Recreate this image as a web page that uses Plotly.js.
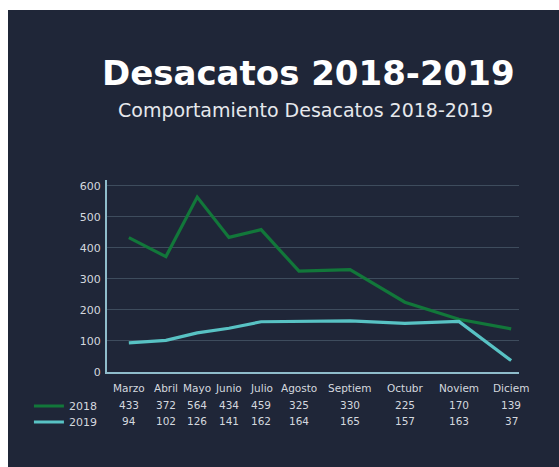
<!DOCTYPE html>
<html>
<head>
<meta charset="utf-8">
<script src="https://cdn.plot.ly/plotly-3.0.1.min.js"></script>
<style>
  html, body { margin: 0; padding: 0; background: #ffffff; }
  #chart { position: absolute; left: 8px; top: 10px; width: 551px; height: 457px; }
</style>
</head>
<body>
<div id="chart"></div>
<script>
// ---- data ----
var months = ["Marzo", "Abril", "Mayo", "Junio", "Julio", "Agosto", "Septiem", "Octubr", "Noviem", "Diciem"];
// column centres of the data table (axis units, range 0..10)
var monthX = [0.53, 1.43, 2.19, 2.96, 3.74, 4.66, 5.90, 7.23, 8.54, 9.81];
var values2018 = [433, 372, 564, 434, 459, 325, 330, 225, 170, 139];
var values2019 = [94, 102, 126, 141, 162, 164, 165, 157, 163, 37];
var seriesNames = ["2018", "2019"];
var yTicks = [0, 100, 200, 300, 400, 500, 600];

var BG = "#1f2638";
var GREEN = "#12773a";
var CYAN = "#58c2c4";
var TXT = "#d4d8df";
var FONT = "DejaVu Sans, Verdana, sans-serif";

var traces = [
  { x: monthX, y: values2018, name: seriesNames[0], type: "scatter", mode: "lines",
    line: { color: GREEN, width: 3.2 }, hoverinfo: "skip", legend: "legend" },
  { x: monthX, y: values2019, name: seriesNames[1], type: "scatter", mode: "lines",
    line: { color: CYAN, width: 3.2 }, hoverinfo: "skip", legend: "legend2" }
];

var annotations = [];
function rowText(labels, yPaper) {
  for (var i = 0; i < labels.length; i++) {
    annotations.push({
      x: monthX[i], xref: "x", y: yPaper, yref: "paper",
      text: String(labels[i]), showarrow: false,
      xanchor: "center", yanchor: "middle",
      font: { family: FONT, size: 10.5, color: TXT }
    });
  }
}
rowText(months, -0.083);
rowText(values2018, -0.172);
rowText(values2019, -0.255);

annotations.push({
  text: "Comportamiento Desacatos 2018-2019",
  xref: "paper", x: 0.483, yref: "paper", y: 1.365,
  xanchor: "center", yanchor: "middle", showarrow: false,
  font: { family: FONT, size: 19, color: "#e6e8ec" }
});

function legendBox(yTopPx) {
  return {
    orientation: "v",
    xref: "container", yref: "container",
    x: 0.038, xanchor: "left", y: 1 - yTopPx / 457, yanchor: "middle",
    bgcolor: "rgba(0,0,0,0)", borderwidth: 0,
    font: { family: FONT, size: 11, color: TXT },
    itemclick: false, itemdoubleclick: false
  };
}

var layout = {
  width: 551, height: 457,
  paper_bgcolor: BG, plot_bgcolor: BG,
  margin: { l: 99, r: 40, t: 170, b: 95, pad: 0 },
  title: {
    text: "<b>Desacatos 2018-2019</b>",
    xref: "container", x: 0.545, xanchor: "center",
    yref: "container", y: 1 - 63 / 457, yanchor: "middle",
    font: { family: FONT, size: 34, color: "#ffffff" }
  },
  showlegend: true,
  legend: legendBox(396),
  legend2: legendBox(412),
  xaxis: {
    range: [0, 10], showgrid: false, zeroline: false,
    showticklabels: false, ticks: "",
    showline: true, linecolor: "#8fbccb", linewidth: 2
  },
  yaxis: {
    range: [0, 619], tickvals: yTicks, ticktext: yTicks.map(String),
    showgrid: true, gridcolor: "#3e4c5d", gridwidth: 1,
    zeroline: false, showline: true, linecolor: "#8fbccb", linewidth: 2,
    ticks: "", ticklabelstandoff: 2,
    tickfont: { family: FONT, size: 11, color: TXT }
  },
  annotations: annotations
};

Plotly.newPlot("chart", traces, layout, { displayModeBar: false, staticPlot: true });
</script>
</body>
</html>
